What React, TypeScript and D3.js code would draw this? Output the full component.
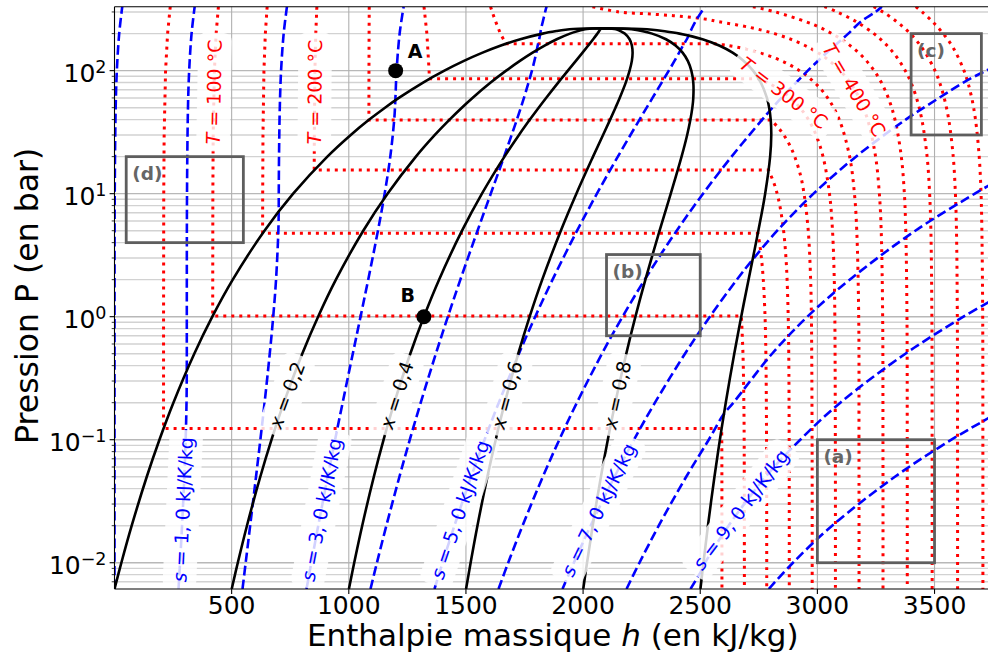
import React from 'react';
import * as d3 from 'd3';

// ---------- axes ----------
const W = 988;
const H = 658;
const hDomain = [0, 3750];
const pDomain = [0.006117, 331];
const xTicks = [500, 1000, 1500, 2000, 2500, 3000, 3500];
const yTickExps = [-2, -1, 0, 1, 2];

// ---------- saturation dome (P in bar, h in kJ/kg) ----------
const satP = [0.006117, 0.01, 0.02, 0.05, 0.1, 0.2, 0.5, 1, 2, 5, 10, 20, 30, 40, 50, 60, 80, 100, 120, 140, 160, 180, 200, 210, 215, 218, 220, 220.64];
const satHl = [0.0, 29.3, 73.4, 137.7, 191.8, 251.4, 340.5, 417.5, 504.7, 640.1, 762.5, 908.5, 1008.3, 1087.4, 1154.5, 1213.7, 1317.1, 1408.1, 1491.5, 1571.0, 1649.4, 1732.0, 1827.2, 1888, 1925, 1958, 2010, 2084.3];
const satHv = [2500.9, 2513.7, 2532.9, 2560.7, 2583.9, 2608.9, 2645.2, 2674.9, 2706.2, 2748.1, 2777.1, 2798.3, 2803.2, 2800.8, 2794.2, 2784.6, 2758.7, 2725.5, 2685.8, 2638.1, 2580.8, 2509.5, 2411.4, 2340, 2295, 2250, 2168, 2084.3];

// ---------- quality lines ----------
const qualityValues = ['0,2', '0,4', '0,6', '0,8'];
const qualityH02 = [500.2, 526.2, 565.3, 622.3, 670.2, 722.9, 801.4, 869.0, 945.0, 1061.7, 1165.4, 1286.5, 1367.3, 1430.1, 1482.4, 1527.9, 1605.4, 1671.6, 1730.4, 1784.4, 1835.7, 1887.5, 1944.0, 1978.4, 1999, 2016.4, 2041.6, 2084.3];
const qualityH04 = [1000.4, 1023.1, 1057.2, 1106.9, 1148.6, 1194.4, 1262.4, 1320.5, 1385.3, 1483.3, 1568.3, 1664.4, 1726.3, 1772.8, 1810.3, 1842.1, 1893.7, 1935.1, 1969.2, 1997.8, 2022.0, 2043.0, 2060.9, 2068.8, 2072, 2075, 2078, 2084.3];
const qualityH06 = [1500.5, 1520.0, 1549.1, 1591.5, 1627.1, 1665.9, 1723.3, 1771.9, 1825.6, 1904.9, 1971.3, 2042.4, 2085.2, 2115.4, 2138.3, 2156.2, 2182.1, 2198.5, 2208.1, 2211.3, 2208.2, 2198.5, 2177.7, 2159.2, 2147, 2133.2, 2104.8, 2084.3];
const qualityH08 = [2000.7, 2016.8, 2041.0, 2076.1, 2105.5, 2137.4, 2184.3, 2223.4, 2265.9, 2326.5, 2374.2, 2420.3, 2444.2, 2458.1, 2466.3, 2470.4, 2470.4, 2462.0, 2446.9, 2424.7, 2394.5, 2354.0, 2294.6, 2249.6, 2221, 2191.6, 2136.4, 2084.3];
const qualityLabelP = 0.231;

// ---------- isentropes [h, P] ----------
const s0Pts = [[0, 0.006117], [0.1, 1], [1.0, 10], [5, 50], [10, 100], [20, 200], [33.1, 331]];
const s1Pts = [[273.2, 0.006117], [279.7, 0.01], [288.3, 0.02], [298.0, 0.05], [303.7, 0.1], [307.4, 0.2], [308.5, 0.357], [308.6, 1], [309.5, 10], [313.6, 50], [318.7, 100], [328.9, 200], [342.2, 331]];
const s2Pts = [[546.3, 0.006117], [559.9, 0.01], [579.0, 0.02], [604.0, 0.05], [622.6, 0.1], [640.6, 0.2], [662.6, 0.5], [677.4, 1], [689.5, 2], [699.4, 5], [700.8, 7.0], [701.1, 10], [702.2, 20], [705.5, 50], [711, 100], [722, 200], [736, 331]];
const s3Pts = [[819.5, 0.006117], [840.0, 0.01], [869.6, 0.02], [910.0, 0.05], [941.5, 0.1], [973.8, 0.2], [1017.1, 0.5], [1050.1, 1], [1082.9, 2], [1124.4, 5], [1153.0, 10], [1177.1, 20], [1193.9, 40], [1198.6, 57.4], [1204, 100], [1217, 200], [1234, 331]];
const s4Pts = [[1092.6, 0.006117], [1120.1, 0.01], [1160.3, 0.02], [1216.1, 0.05], [1260.4, 0.1], [1307.0, 0.2], [1371.6, 0.5], [1422.9, 1], [1476.2, 2], [1549.4, 5], [1606.0, 10], [1662.7, 20], [1717.4, 40], [1747.6, 60], [1767.2, 80], [1781.8, 100], [1792.2, 120], [1800.2, 140], [1806.3, 160], [1812.7, 180], [1816.8, 198], [1821, 220], [1828, 250], [1838, 300], [1844, 331]];
const s5Pts = [[1365.8, 0.006117], [1400.2, 0.01], [1450.9, 0.02], [1522.1, 0.05], [1579.5, 0.1], [1640.2, 0.2], [1726.0, 0.5], [1795.6, 1], [1869.6, 2], [1974.4, 5], [2059.0, 10], [2148.3, 20], [2240.9, 40], [2296.3, 60], [2335.4, 80], [2365.9, 100], [2390.1, 120], [2410.0, 140], [2426.8, 160], [2442.8, 180], [2450, 192], [2464, 220], [2479, 250], [2505, 300], [2520, 331]];
const s6Pts = [[1639.0, 0.006117], [1680.4, 0.01], [1741.6, 0.02], [1828.1, 0.05], [1898.5, 0.1], [1973.5, 0.2], [2080.5, 0.5], [2168.4, 1], [2262.9, 2], [2399.4, 5], [2512.0, 10], [2633.8, 20], [2764.5, 40], [2796, 47], [2846.1, 60], [2909.1, 80], [2959.1, 100], [3012.1, 125], [3056.9, 150], [3098, 175], [3131.8, 200], [3185, 250], [3248, 300], [3275, 331]];
const s7Pts = [[1912.1, 0.006117], [1960.5, 0.01], [2032.2, 0.02], [2134.2, 0.05], [2217.4, 0.1], [2306.7, 0.2], [2434.9, 0.5], [2541.1, 1], [2656.3, 2], [2725, 2.93], [2828.5, 5], [2983.4, 10], [3164.7, 20], [3377.1, 40], [3519, 60], [3623, 80], [3720, 100], [3810, 120]];
const s8Pts = [[2185.3, 0.006117], [2240.6, 0.01], [2322.9, 0.02], [2440.2, 0.05], [2536.4, 0.1], [2599, 0.16], [2641.6, 0.2], [2806.5, 0.5], [2957.3, 1], [3138.0, 2], [3418, 5], [3672, 10], [3760, 12.5]];
const s9Pts = [[2458.4, 0.006117], [2509, 0.0089], [2521.2, 0.01], [2620.9, 0.02], [2779.4, 0.05], [2927, 0.1], [3098, 0.2], [3375.7, 0.5], [3623.5, 1], [3785, 1.5]];
const s10Pts = [[2792.5, 0.006117], [2895.8, 0.01], [3062.8, 0.02], [3331, 0.05], [3572.1, 0.1], [3730, 0.15], [3800, 0.18]];
const sLabelValues = ['1, 0', '3, 0', '5, 0', '7, 0', '9, 0'];
const sLabelP = 0.027;

// ---------- isotherms [h, P] ----------
const T50Liq = [[237.9, 331], [226.6, 200], [218.0, 100], [211.9, 30], [210.2, 10], [209.4, 1], [209.3, 0.1235]];
const T50Vap = [[2591.3, 0.1235], [2592.0, 0.1], [2592.6, 0.01], [2592.7, 0.006117]];
const T100Liq = [[443.5, 331], [433.8, 200], [426.4, 100], [421.2, 30], [419.8, 10], [419.1, 1.014]];
const T100Vap = [[2675.6, 1.014], [2682.4, 0.5], [2686.2, 0.2], [2687.5, 0.1], [2688.4, 0.01], [2688.5, 0.006117]];
const T150Liq = [[651.5, 331], [643.8, 200], [637.8, 100], [633.7, 30], [632.5, 10], [632.2, 4.76]];
const T150Vap = [[2745.9, 4.76], [2752.8, 4], [2761.2, 3], [2769.1, 2], [2776.6, 1], [2780.2, 0.5], [2783.0, 0.1], [2783.8, 0.006117]];
const T200Liq = [[863.7, 331], [859.1, 200], [855.4, 100], [852.9, 30], [852.4, 15.55]];
const T200Vap = [[2792.0, 15.55], [2815.9, 12], [2828.3, 10], [2839.7, 8], [2855.8, 5], [2865.9, 3], [2870.7, 2], [2875.5, 1], [2877.8, 0.5], [2879.6, 0.1], [2880.1, 0.006117]];
const T250Liq = [[1087.3, 331], [1086.6, 200], [1086.1, 100], [1085.8, 39.76]];
const T250Vap = [[2800.9, 39.76], [2829.7, 35], [2856.5, 30], [2880.9, 25], [2903.3, 20], [2928.4, 14], [2943.1, 10], [2961.0, 5], [2971.2, 2], [2974.5, 1], [2977.4, 0.1], [2977.8, 0.006117]];
const T300Liq = [[1321, 331], [1333.3, 200], [1342.7, 100], [1344.0, 85.88]];
const T300Vap = [[2749.6, 85.88], [2786.5, 80], [2839.4, 70], [2885.6, 60], [2925.7, 50], [2961.7, 40], [2994.3, 30], [3024.2, 20], [3051.6, 10], [3064.6, 5], [3072.1, 2], [3074.5, 1], [3076.7, 0.1], [3077.0, 0.006117]];
const T350Liq = [[1605, 331], [1612, 300], [1627, 250], [1647, 200], [1670.9, 165.3]];
const T350Vap = [[2563.6, 165.3], [2617, 160], [2693.1, 150], [2826.6, 125], [2924.0, 100], [2988.1, 80], [3043.9, 60], [3093.3, 40], [3137.7, 20], [3158.2, 10], [3168.1, 5], [3176.4, 1], [3177.5, 0.1], [3177.8, 0.006117]];
const T400Pts = [[2040, 331], [2152.8, 300], [2270, 290], [2385, 280], [2470, 270], [2535, 260], [2578.7, 250], [2710, 225], [2816.9, 200], [2902.4, 175], [2975.7, 150], [3040.0, 125], [3097.5, 100], [3139.4, 80], [3178.3, 60], [3214.5, 40], [3248.4, 20], [3264.5, 10], [3272.4, 5], [3278.6, 1], [3279.9, 0.1], [3280.1, 0.006117]];
const T450Pts = [[2725, 331], [2821.0, 300], [2950.6, 250], [3010, 225], [3061.7, 200], [3111.4, 175], [3157.9, 150], [3201.5, 125], [3242.4, 100], [3273.3, 80], [3302.9, 60], [3331.2, 40], [3358.2, 20], [3371.3, 10], [3377.3, 5], [3382.4, 1], [3383.5, 0.1], [3383.7, 0.006117]];
const T500Pts = [[3030, 331], [3084.8, 300], [3165.9, 250], [3241.2, 200], [3276.7, 175], [3310.8, 150], [3343.6, 125], [3375.1, 100], [3399.5, 80], [3423.1, 60], [3446.0, 40], [3468.3, 20], [3479.1, 10], [3484.5, 5], [3488.7, 1], [3489.7, 0.1], [3489.9, 0.006117]];
const T550Pts = [[3240, 331], [3279.7, 300], [3339, 250], [3396.2, 200], [3450.4, 150], [3502.0, 100], [3521.8, 80], [3541.3, 60], [3560.7, 40], [3579.8, 20], [3589.1, 10], [3593.7, 5], [3597.3, 1], [3598.2, 0.1], [3598.4, 0.006117]];
const T600Pts = [[3420, 331], [3446.7, 300], [3491.4, 250], [3537.0, 200], [3582.7, 150], [3625.8, 100], [3642.4, 80], [3658.8, 60], [3674.9, 40], [3690.7, 20], [3698.6, 10], [3702.1, 5], [3705.6, 1], [3706.3, 0.1], [3706.5, 0.006117]];

// ---------- annotation boxes [hMin, hMax], [Pmin, Pmax] ----------
const boxNames = ['(a)', '(b)', '(c)', '(d)'];
const boxH = [[3000, 3500], [2100, 2500], [3400, 3700], [50, 550]];
const boxP = [[0.01, 0.1], [0.7, 3.2], [30, 200], [4, 20]];

// ---------- points ----------
const pointNames = ['A', 'B'];
const pointH = [1200, 1320.5];
const pointP = [100, 1];

const FONT = '"DejaVu Sans", Verdana, sans-serif';
const LABEL_FS = 19;

let measureCtx: CanvasRenderingContext2D | null = null;
function textWidth(s: string, size: number) {
  if (!measureCtx) measureCtx = document.createElement('canvas').getContext('2d');
  if (!measureCtx) return s.length * size * 0.6;
  measureCtx.font = `${size}px "DejaVu Sans"`;
  return measureCtx.measureText(s).width;
}

function labelPlacement(pts: number[][], P: number, xs: any, ys: any) {
  const lp = Math.log10(P);
  for (let i = 0; i < pts.length - 1; i++) {
    const a = pts[i];
    const b = pts[i + 1];
    const la = Math.log10(a[1]);
    const lb = Math.log10(b[1]);
    if (la !== lb && (la - lp) * (lb - lp) <= 0) {
      const t = (lp - la) / (lb - la);
      const h = a[0] + t * (b[0] - a[0]);
      let dx = xs(b[0]) - xs(a[0]);
      let dy = ys(b[1]) - ys(a[1]);
      if (dy > 0) { dx = -dx; dy = -dy; }
      let ang = (Math.atan2(dy, dx) * 180) / Math.PI;
      if (ang < -90) ang += 180;
      return { px: xs(h), py: ys(P), ang };
    }
  }
  return null;
}

function CurveLabel({ pl, first, rest, color }: any) {
  if (!pl) return null;
  const w = textWidth(first + rest, LABEL_FS);
  return (
    <g transform={`translate(${pl.px},${pl.py}) rotate(${pl.ang})`}>
      <rect x={-w / 2 - 7} y={-LABEL_FS * 0.62 - 5} width={w + 14} height={LABEL_FS * 1.24 + 10} rx={8} fill="white" fillOpacity={0.82} />
      <text textAnchor="middle" dy="0.36em" fontSize={LABEL_FS} fill={color} fontFamily={FONT}>
        <tspan fontStyle="italic">{first}</tspan>{rest}
      </text>
    </g>
  );
}

export default function App() {
  const left = 114.5, right = 993.1, top = 6.7, bottom = 589;
  const x = d3.scaleLinear().domain(hDomain).range([left, right]);
  const y = d3.scaleLog().domain(pDomain).range([bottom, top]);

  const smooth = d3.line<number[]>().x((d) => x(d[0])).y((d) => y(d[1])).curve(d3.curveCatmullRom.alpha(0.5));
  const straight = d3.line<number[]>().x((d) => x(d[0])).y((d) => y(d[1]));

  const domePts = [
    ...satP.map((p, i) => [satHl[i], p]),
    ...satP.slice(0, -1).map((p, i) => [satHv[i], p]).reverse(),
  ];
  const qualityArrays = [qualityH02, qualityH04, qualityH06, qualityH08];
  const qualityLines = qualityArrays.map((arr) => satP.map((p, i) => [arr[i], p]));

  const isentropes = [s0Pts, s1Pts, s2Pts, s3Pts, s4Pts, s5Pts, s6Pts, s7Pts, s8Pts, s9Pts, s10Pts];
  const sLabelCurves = [s1Pts, s3Pts, s5Pts, s7Pts, s9Pts];

  const subcritical = [
    [T50Liq, T50Vap], [T100Liq, T100Vap], [T150Liq, T150Vap], [T200Liq, T200Vap],
    [T250Liq, T250Vap], [T300Liq, T300Vap], [T350Liq, T350Vap],
  ];
  const supercritical = [T400Pts, T450Pts, T500Pts, T550Pts, T600Pts];
  const isothermPaths = [
    ...subcritical.map(([liq, vap]) => (straight(liq) || '') + (smooth(vap) || '').replace(/^M/, 'L')),
    ...supercritical.map((pts) => smooth(pts) || ''),
  ];

  const TLabels = [
    { curve: T100Liq, P: 67, text: ' = 100 °C' },
    { curve: T200Liq, P: 67, text: ' = 200 °C' },
    { curve: T300Vap, P: 66, text: ' = 300 °C' },
    { curve: T400Pts, P: 70, text: ' = 400 °C' },
  ];

  const minorP: number[] = [];
  for (let k = -3; k <= 2; k++) {
    for (let m = 2; m <= 9; m++) {
      const v = m * Math.pow(10, k);
      if (v > pDomain[0] && v < pDomain[1]) minorP.push(v);
    }
  }
  const majorP = yTickExps.map((e) => Math.pow(10, e));

  const red = '#ff0000';
  const blue = '#0000ff';
  const gray = '#5e5e5e';

  return (
    <svg width={W} height={H} style={{ position: 'absolute', left: 0, top: 0, background: 'white' }} fontFamily={FONT}>
      <defs>
        <clipPath id="plotClip">
          <rect x={left} y={top} width={right - left} height={bottom - top} />
        </clipPath>
      </defs>
      <rect x={0} y={0} width={W} height={H} fill="white" />

      {/* grid */}
      <g>
        {minorP.map((v) => (
          <line key={'mg' + v} x1={left} x2={right} y1={y(v)} y2={y(v)} stroke="#d2d2d2" strokeWidth={1.4} />
        ))}
        {majorP.map((v) => (
          <line key={'Mg' + v} x1={left} x2={right} y1={y(v)} y2={y(v)} stroke="#b8b8b8" strokeWidth={1.4} />
        ))}
        {xTicks.map((v) => (
          <line key={'xg' + v} x1={x(v)} x2={x(v)} y1={top} y2={bottom} stroke="#b0b0b0" strokeWidth={1.1} />
        ))}
      </g>

      <g clipPath="url(#plotClip)" fill="none">
        {isothermPaths.map((d, i) => (
          <path key={'T' + i} d={d} stroke={red} strokeWidth={3} strokeDasharray="3 5" />
        ))}
        {isentropes.map((pts, i) => (
          <path key={'s' + i} d={smooth(pts) || ''} stroke={blue} strokeWidth={2.6} strokeDasharray="9.5 4.2" />
        ))}
        <path d={smooth(domePts) || ''} stroke="black" strokeWidth={2.6} />
        {qualityLines.map((pts, i) => (
          <path key={'q' + i} d={smooth(pts) || ''} stroke="black" strokeWidth={2.6} />
        ))}
      </g>

      {/* curve labels */}
      <g clipPath="url(#plotClip)">
        {qualityLines.map((pts, i) => (
          <CurveLabel key={'ql' + i} pl={labelPlacement(pts, qualityLabelP, x, y)} first="x" rest={' = ' + qualityValues[i]} color="black" />
        ))}
        {sLabelCurves.map((pts, i) => (
          <CurveLabel key={'sl' + i} pl={labelPlacement(pts, sLabelP, x, y)} first="s" rest={' = ' + sLabelValues[i] + ' kJ/K/kg'} color={blue} />
        ))}
        {TLabels.map((l, i) => (
          <CurveLabel key={'tl' + i} pl={labelPlacement(l.curve, l.P, x, y)} first="T" rest={l.text} color={red} />
        ))}
      </g>

      {/* annotation boxes */}
      {boxNames.map((name, i) => {
        const x0 = x(boxH[i][0]);
        const x1 = x(boxH[i][1]);
        const y0 = y(boxP[i][1]);
        const y1 = y(boxP[i][0]);
        return (
          <g key={name}>
            <rect x={x0} y={y0} width={x1 - x0} height={y1 - y0} fill="none" stroke={gray} strokeWidth={2.8} />
            <text x={x0 + 6} y={y0 + 23} fontSize={18.5} fontWeight="bold" fill="#666666">{name}</text>
          </g>
        );
      })}

      {/* points */}
      {pointNames.map((n, i) => {
        const px = x(pointH[i]);
        const py = y(pointP[i]);
        return (
          <g key={n}>
            <circle cx={px} cy={py} r={7.5} fill="black" />
            {i === 0 ? (
              <text x={px + 12} y={py - 12.7} fontSize={19} fontWeight="bold">{n}</text>
            ) : (
              <text x={px - 9} y={py - 14.7} fontSize={19} fontWeight="bold" textAnchor="end">{n}</text>
            )}
          </g>
        );
      })}

      {/* spines */}
      <line x1={left} x2={left} y1={top} y2={bottom} stroke="black" strokeWidth={1.1} />
      <line x1={left} x2={right} y1={bottom} y2={bottom} stroke="black" strokeWidth={1.1} />
      <line x1={left} x2={right} y1={top} y2={top} stroke="black" strokeWidth={1.1} />

      {/* x ticks */}
      {xTicks.map((v) => (
        <g key={'xt' + v}>
          <line x1={x(v)} x2={x(v)} y1={bottom} y2={bottom + 4.9} stroke="black" strokeWidth={1.1} />
          <text x={x(v)} y={614} textAnchor="middle" fontSize={25}>{v}</text>
        </g>
      ))}
      {/* y ticks */}
      {minorP.map((v) => (
        <line key={'ymt' + v} x1={left - 2.8} x2={left} y1={y(v)} y2={y(v)} stroke="black" strokeWidth={0.8} />
      ))}
      {yTickExps.map((e) => {
        const v = Math.pow(10, e);
        return (
          <g key={'yt' + e}>
            <line x1={left - 4.9} x2={left} y1={y(v)} y2={y(v)} stroke="black" strokeWidth={1.1} />
            <text x={106.5} y={y(v) + 11} textAnchor="end" fontSize={25}>
              10<tspan dy={-9} fontSize={17.5}>{e < 0 ? '\u2212' + Math.abs(e) : String(e)}</tspan>
            </text>
          </g>
        );
      })}

      {/* axis labels */}
      <text x={(left + right) / 2 - 1} y={646} textAnchor="middle" fontSize={31}>
        Enthalpie massique <tspan fontStyle="italic">h</tspan> (en kJ/kg)
      </text>
      <text transform={`translate(38,${(top + bottom) / 2 - 2}) rotate(-90)`} textAnchor="middle" fontSize={31.5}>
        Pression P (en bar)
      </text>
    </svg>
  );
}
